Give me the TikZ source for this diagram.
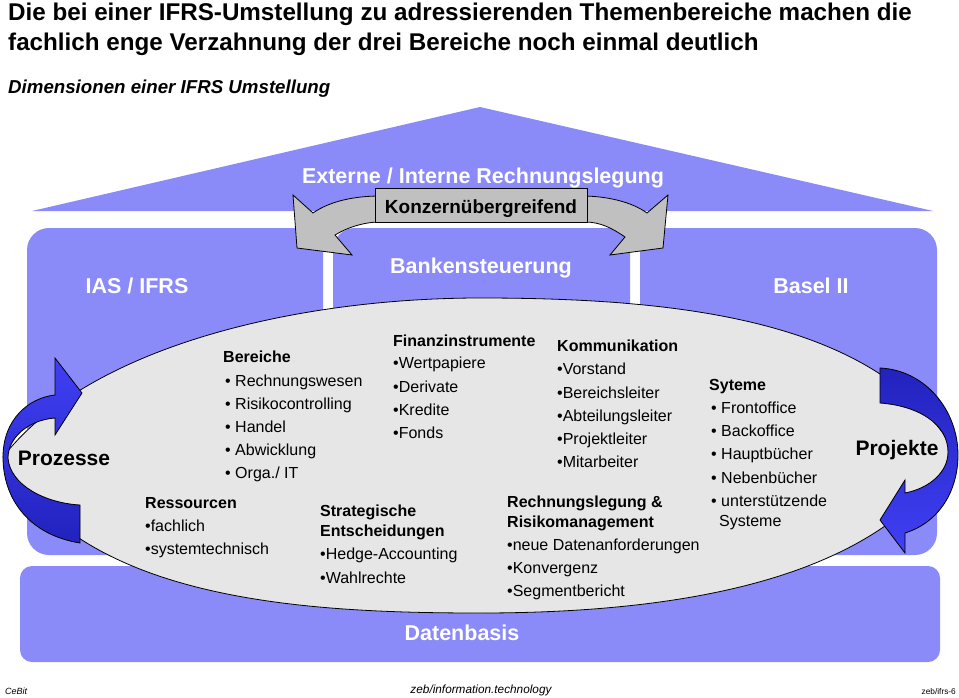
\documentclass[tikz,border=0pt]{standalone}
\usepackage{fontspec}
\setmainfont{Liberation Sans}
\definecolor{boxblue}{RGB}{138,138,248}
\definecolor{ellgray}{RGB}{230,230,230}
\definecolor{arrgray}{RGB}{192,192,192}
\definecolor{arrL}{RGB}{64,64,245}
\definecolor{arrD}{RGB}{34,34,190}
\begin{document}
\begin{tikzpicture}[x=1pt,y=-1pt,
  txt/.style={anchor=base west, inner sep=0pt, font=\fontsize{16}{18}\selectfont},
  hd/.style={anchor=base west, inner sep=0pt, font=\fontsize{16}{18}\selectfont\bfseries},
  lbl/.style={anchor=base, inner sep=0pt, text=white, font=\fontsize{21.5}{24}\selectfont\bfseries},
  big/.style={anchor=base, inner sep=0pt, font=\fontsize{21}{24}\selectfont\bfseries},
  ttl/.style={anchor=base west, inner sep=0pt, font=\fontsize{24.2}{27}\selectfont\bfseries},
  outl/.style={draw=black, line width=0.8pt}]
\useasboundingbox (0,0) rectangle (959,697);
% roof and boxes
\fill[boxblue] (32,211) -- (480,107) -- (933,211) -- cycle;
\fill[boxblue, rounded corners=22pt] (27,228) rectangle (323,555);
\fill[boxblue, rounded corners=22pt] (333,228) rectangle (630,555);
\fill[boxblue, rounded corners=22pt] (640,228) rectangle (937,555);
\fill[boxblue, rounded corners=12pt] (20,566) rectangle (940,662);
% ellipse
\path[fill=ellgray, outl] (3,457) .. controls (90,345) and (300,298) .. (480,298)
  .. controls (680,298) and (880,320) .. (955,452)
  .. controls (880,580) and (680,613) .. (480,613)
  .. controls (300,613) and (80,600) .. (3,457) -- cycle;
% Prozesse arrow
\path[outl, top color=arrL, bottom color=arrD]
  (80,543) .. controls (30,535) and (3,500) .. (3,457)
  .. controls (3,420) and (28,398) .. (55,395) -- (55,358) -- (82,393) -- (55,435) -- (55,418)
  .. controls (28,420) and (8,438) .. (8,458)
  .. controls (10,485) and (45,503) .. (80,505) -- cycle;
% Projekte arrow
\path[outl, top color=arrD, bottom color=arrL]
  (880,368) .. controls (925,370) and (958,410) .. (958,455)
  .. controls (958,490) and (940,522) .. (905,533) -- (905,553) -- (880,520) -- (905,480) -- (905,493)
  .. controls (930,488) and (948,472) .. (948,452)
  .. controls (948,425) and (920,406) .. (880,403) -- cycle;
% gray double arrow
\path[outl, fill=arrgray]
  (293,195) -- (313,213) .. controls (330,201) and (355,196) .. (380,196) -- (582,196)
  .. controls (607,196) and (632,202) .. (647,213) -- (668,195) -- (663,248) -- (610,255) -- (625,237)
  .. controls (612,228) and (600,222) .. (585,222) -- (380,222)
  .. controls (365,222) and (348,227) .. (335,235) -- (352,255) -- (297,248) -- cycle;
\node[outl, fill=arrgray, minimum width=212pt, minimum height=34pt, inner sep=0pt] (konzbox) at (481,205) {};
\node[anchor=base, inner sep=0pt, font=\fontsize{19}{21}\selectfont\bfseries] (konz) at (481,213) {Konzernübergreifend};
% title
\node[ttl] (t1) at (8,20) {Die bei einer IFRS-Umstellung zu adressierenden Themenbereiche machen die};
\node[ttl] (t2) at (8,50) {fachlich enge Verzahnung der drei Bereiche noch einmal deutlich};
\node[anchor=base west, inner sep=0pt, font=\fontsize{18.7}{21}\selectfont\bfseries\itshape] (sub) at (8,93) {Dimensionen einer IFRS Umstellung};
% labels on blue
\node[lbl] (ext) at (483,183) {Externe / Interne Rechnungslegung};
\node[lbl] (ias) at (137,293) {IAS / IFRS};
\node[lbl] (bank) at (481,273) {Bankensteuerung};
\node[lbl] (basel) at (811,293) {Basel II};
\node[lbl] (daten) at (462,640) {Datenbasis};
\node[big] (proz) at (64,465) {Prozesse};
\node[big] (proj) at (897,455) {Projekte};
% Bereiche
\node[hd] (ber) at (223,362) {Bereiche};
\node[txt] (ber1) at (225,386) {• Rechnungswesen};
\node[txt] (ber2) at (225,409) {• Risikocontrolling};
\node[txt] (ber3) at (225,432) {• Handel};
\node[txt] (ber4) at (225,455) {• Abwicklung};
\node[txt] (ber5) at (225,478) {• Orga./ IT};
% Ressourcen
\node[hd] (res) at (145,508) {Ressourcen};
\node[txt] (res1) at (145,531) {•fachlich};
\node[txt] (res2) at (145,554) {•systemtechnisch};
% Finanzinstrumente
\node[hd] (fin) at (393,346) {Finanzinstrumente};
\node[txt] (fin1) at (393,368) {•Wertpapiere};
\node[txt] (fin2) at (393,392) {•Derivate};
\node[txt] (fin3) at (393,415) {•Kredite};
\node[txt] (fin4) at (393,438) {•Fonds};
% Strategische Entscheidungen
\node[hd] (str1) at (320,516) {Strategische};
\node[hd] (str2) at (320,536) {Entscheidungen};
\node[txt] (str3) at (320,559) {•Hedge-Accounting};
\node[txt] (str4) at (320,583) {•Wahlrechte};
% Kommunikation
\node[hd] (kom) at (557,351) {Kommunikation};
\node[txt] (kom1) at (557,374) {•Vorstand};
\node[txt] (kom2) at (557,398) {•Bereichsleiter};
\node[txt] (kom3) at (557,421) {•Abteilungsleiter};
\node[txt] (kom4) at (557,444) {•Projektleiter};
\node[txt] (kom5) at (557,467) {•Mitarbeiter};
% Rechnungslegung
\node[hd] (rl1) at (507,507) {Rechnungslegung \&};
\node[hd] (rl2) at (507,527) {Risikomanagement};
\node[txt] (rl3) at (507,550) {•neue Datenanforderungen};
\node[txt] (rl4) at (507,573) {•Konvergenz};
\node[txt] (rl5) at (507,596) {•Segmentbericht};
% Syteme
\node[hd] (sys) at (709,390) {Syteme};
\node[txt] (sys1) at (711,413) {• Frontoffice};
\node[txt] (sys2) at (711,436) {• Backoffice};
\node[txt] (sys3) at (711,459) {• Hauptbücher};
\node[txt] (sys4) at (711,483) {• Nebenbücher};
\node[txt] (sys5) at (711,506) {• unterstützende};
\node[txt] (sys6) at (719,526) {Systeme};
% footer
\node[anchor=base west, inner sep=0pt, font=\fontsize{9}{10}\selectfont\itshape] (cebit) at (5,694) {CeBit};
\node[anchor=base, inner sep=0pt, font=\fontsize{11.8}{13}\selectfont\itshape] (zeb) at (481,693) {zeb/information.technology};
\node[anchor=base east, inner sep=0pt, font=\fontsize{8.3}{10}\selectfont] (ifrs) at (956,694) {zeb/ifrs-6};
\end{tikzpicture}
\end{document}
